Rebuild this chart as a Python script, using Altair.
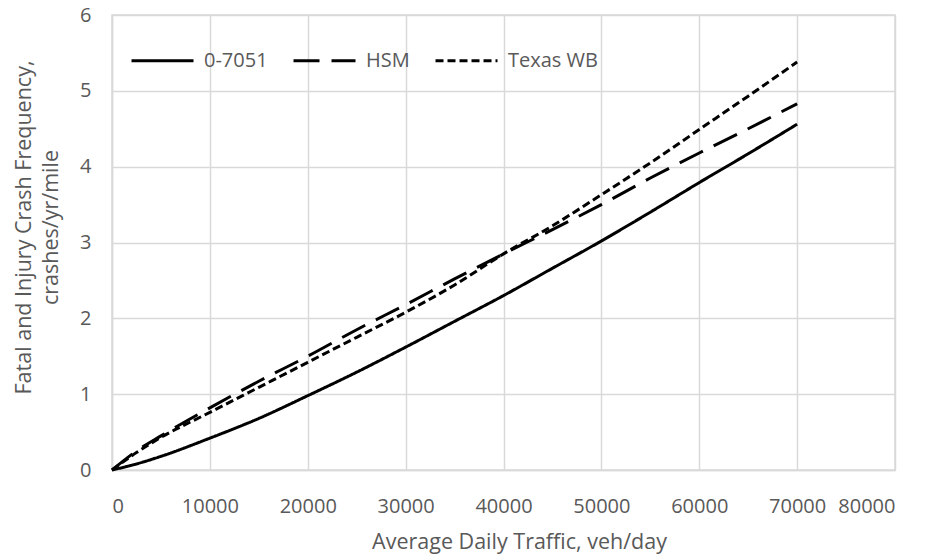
import altair as alt
import pandas as pd

adt = [0, 2500, 5000, 10000, 15000, 20000, 25000, 30000, 35000, 40000,
       45000, 50000, 55000, 60000, 65000, 70000]
freq_07051 = [0, 0.08, 0.18, 0.42, 0.68, 0.98, 1.29, 1.62, 1.96, 2.30,
              2.66, 3.02, 3.40, 3.79, 4.17, 4.56]
freq_hsm = [0, 0.25, 0.45, 0.82, 1.17, 1.50, 1.85, 2.18, 2.52, 2.85,
            3.17, 3.50, 3.85, 4.18, 4.50, 4.83]
freq_texas = [0, 0.23, 0.43, 0.76, 1.09, 1.42, 1.75, 2.08, 2.44, 2.85,
              3.22, 3.63, 4.05, 4.49, 4.93, 5.38]
series_names = ["0-7051", "HSM", "Texas WB"]

rows = []
for name, vals in zip(series_names, [freq_07051, freq_hsm, freq_texas]):
    for x, y in zip(adt, vals):
        rows.append({"adt": x, "freq": y, "series": name})
df = pd.DataFrame(rows)

FONT = "Open Sans"
GRAY = "#595959"

chart = alt.Chart(df).mark_line(strokeWidth=3, interpolate="monotone").encode(
    x=alt.X("adt:Q",
            scale=alt.Scale(domain=[0, 80000], nice=False),
            axis=alt.Axis(values=list(range(0, 80001, 10000)), format="d",
                          title="Average Daily Traffic, veh/day",
                          titlePadding=15, labelPadding=26, titleX=407)),
    y=alt.Y("freq:Q",
            scale=alt.Scale(domain=[0, 6], nice=False),
            axis=alt.Axis(values=[0, 1, 2, 3, 4, 5, 6],
                          title=["Fatal and Injury Crash Frequency,", "crashes/yr/mile"],
                          titlePadding=17, labelPadding=21, titleLineHeight=27,
                          titleY=212)),
    color=alt.Color("series:N",
                    scale=alt.Scale(domain=series_names, range=["black", "black", "black"]),
                    legend=alt.Legend(title=None)),
    strokeDash=alt.StrokeDash("series:N",
                              scale=alt.Scale(domain=series_names,
                                              range=[[1, 0], [26, 12], [8, 4]]),
                              legend=alt.Legend(title=None)),
).properties(
    width=783,
    height=455,
    padding={"left": 112, "top": 15, "right": 35, "bottom": 88},
    autosize=alt.AutoSizeParams(type="none"),
).configure_view(
    stroke="#d9d9d9", strokeWidth=1.5
).configure_axis(
    grid=True, gridColor="#d9d9d9", gridWidth=1.5,
    domainColor="#d9d9d9", domainWidth=1.5,
    ticks=False,
    labelFont=FONT, labelFontSize=20, labelColor=GRAY,
    titleFont=FONT, titleFontSize=21.5, titleColor=GRAY, titleFontWeight="normal",
).configure_legend(
    orient="none", legendX=18, legendY=13, direction="horizontal",
    symbolType="stroke", symbolSize=3844, symbolStrokeWidth=3,
    labelFont=FONT, labelFontSize=20, labelColor=GRAY, labelOffset=9,
    columnPadding=19,
)

chart.save("out.html", embed_options={"renderer": "svg", "actions": False})
